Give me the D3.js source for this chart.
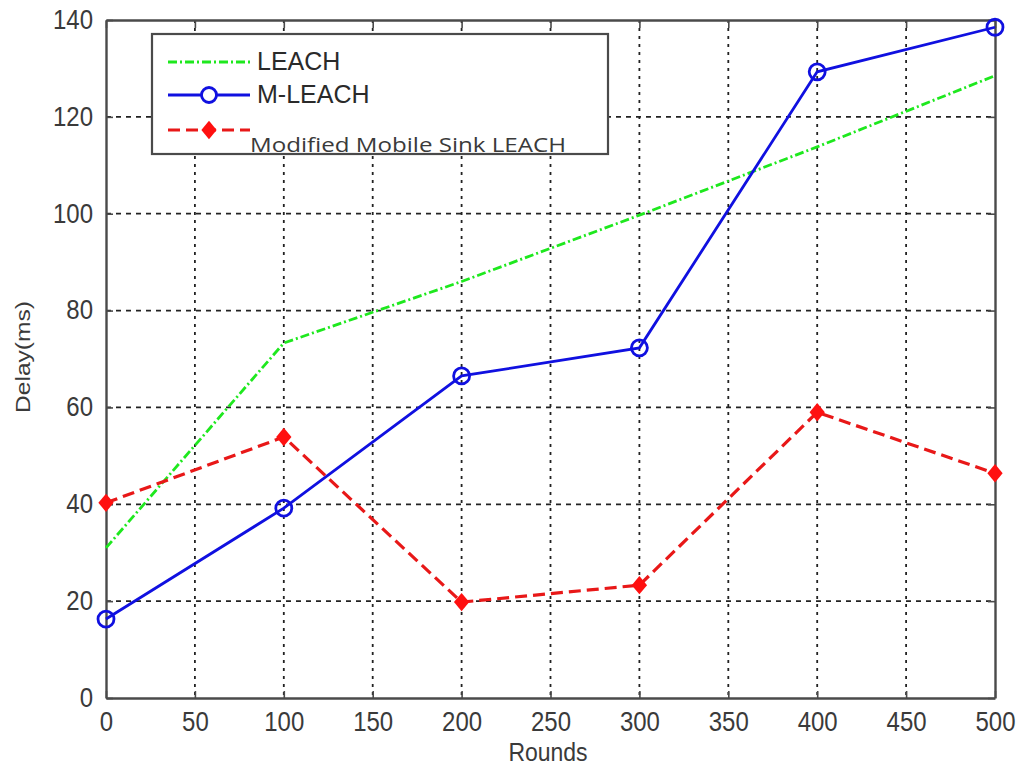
<!DOCTYPE html>
<html>
<head>
<meta charset="utf-8">
<script src="https://cdn.jsdelivr.net/npm/d3@7"></script>
<style>
  html, body { margin: 0; padding: 0; background: #fff; }
  svg { display: block; }
</style>
</head>
<body>
<svg id="chart" width="1020" height="769"></svg>
<script>
// Delay per round for the three clustering protocols
const rounds = [0, 100, 200, 300, 400, 500];
const leach = [31, 73.3, 86, 99.7, 113.8, 128.5];
const mLeach = [16.3, 39.2, 66.5, 72.3, 129.3, 138.5];
const modifiedSink = [40.3, 53.9, 19.8, 23.3, 59, 46.4];

const xTicks = [0, 50, 100, 150, 200, 250, 300, 350, 400, 450, 500];
const yTicks = [0, 20, 40, 60, 80, 100, 120, 140];
const seriesNames = ["LEACH", "M-LEACH", "Modified Mobile Sink LEACH"];

const svg = d3.select("#chart");
const plotLeft = 106, plotRight = 995, plotTop = 20, plotBottom = 698;

const x = d3.scaleLinear().domain([0, 500]).range([plotLeft, plotRight]);
const y = d3.scaleLinear().domain([0, 140]).range([plotBottom, plotTop]);

const axisColor = "#4a4a4a";
const labelColor = "#3a3a3a";
const stretch = 1.15;
const green = "#1ee81e", blue = "#1010e0", red = "#e81818";

// grid
const grid = svg.append("g");
grid.selectAll("line.gx").data(xTicks.slice(1, -1)).join("line")
  .attr("x1", d => x(d)).attr("x2", d => x(d))
  .attr("y1", plotTop).attr("y2", plotBottom)
  .attr("stroke", "#222").attr("stroke-width", 1.8)
  .attr("stroke-dasharray", "3,5");
grid.selectAll("line.gy").data(yTicks.slice(1, -1)).join("line")
  .attr("x1", plotLeft).attr("x2", plotRight)
  .attr("y1", d => y(d)).attr("y2", d => y(d))
  .attr("stroke", "#222").attr("stroke-width", 1.8)
  .attr("stroke-dasharray", "5,5");

// axes
const xAxis = svg.append("g")
  .attr("transform", `translate(0,${plotBottom})`)
  .call(d3.axisBottom(x).tickValues(xTicks).tickSizeInner(-7).tickSizeOuter(0).tickPadding(14));
const xAxisTop = svg.append("g")
  .attr("transform", `translate(0,${plotTop})`)
  .call(d3.axisTop(x).tickValues(xTicks).tickSizeInner(-8).tickSizeOuter(0).tickFormat(""));
const yAxis = svg.append("g")
  .attr("transform", `translate(${plotLeft},0)`)
  .call(d3.axisLeft(y).tickValues(yTicks).tickSizeInner(-7).tickSizeOuter(0).tickPadding(13));
const yAxisRight = svg.append("g")
  .attr("transform", `translate(${plotRight},0)`)
  .call(d3.axisRight(y).tickValues(yTicks).tickSizeInner(-7).tickSizeOuter(0).tickFormat(""));

[xAxis, xAxisTop, yAxis, yAxisRight].forEach(a => {
  a.select(".domain").attr("stroke", axisColor).attr("stroke-width", 2.4);
  a.selectAll(".tick line").attr("stroke", axisColor).attr("stroke-width", 1.6);
});
xAxis.selectAll(".tick text")
  .attr("font-family", "Liberation Sans, Arial, sans-serif")
  .attr("font-size", 24).attr("fill", labelColor)
  .attr("dy", "0.62em")
  .attr("transform", `scale(1,${stretch})`);
yAxis.selectAll(".tick text")
  .attr("font-family", "Liberation Sans, Arial, sans-serif")
  .attr("font-size", 24).attr("fill", labelColor)
  .attr("dy", "0.3em")
  .attr("transform", `scale(1,${stretch})`);

// axis titles
svg.append("text")
  .attr("transform", `translate(548,761) scale(1,${stretch})`)
  .attr("text-anchor", "middle")
  .attr("font-family", "Liberation Sans, Arial, sans-serif")
  .attr("font-size", 23).attr("fill", labelColor)
  .text("Rounds");
svg.append("text")
  .attr("transform", `translate(30,357) rotate(-90) scale(${stretch + 0.08},1)`)
  .attr("text-anchor", "middle")
  .attr("font-family", "Liberation Sans, Arial, sans-serif")
  .attr("font-size", 20).attr("fill", labelColor)
  .text("Delay(ms)");

// lines
const line = d3.line().x((d, i) => x(rounds[i])).y(d => y(d));
const plot = svg.append("g");
const marker = d3.symbol(d3.symbolDiamond, 120);

plot.append("path").datum(leach)
  .attr("d", line).attr("fill", "none")
  .attr("stroke", green).attr("stroke-width", 2.8)
  .attr("stroke-dasharray", "9,3,2,3");

plot.append("path").datum(mLeach)
  .attr("d", line).attr("fill", "none")
  .attr("stroke", blue).attr("stroke-width", 2.8);
plot.selectAll("circle.m").data(mLeach).join("circle")
  .attr("cx", (d, i) => x(rounds[i])).attr("cy", d => y(d))
  .attr("r", 8).attr("fill", "none")
  .attr("stroke", blue).attr("stroke-width", 2.8);

plot.append("path").datum(modifiedSink)
  .attr("d", line).attr("fill", "none")
  .attr("stroke", red).attr("stroke-width", 3.2)
  .attr("stroke-dasharray", "12,6");
plot.selectAll("path.d").data(modifiedSink).join("path")
  .attr("transform", (d, i) => `translate(${x(rounds[i])},${y(d)}) scale(1.3,0.9)`)
  .attr("d", marker)
  .attr("fill", "#ff1010");

// legend
const lg = svg.append("g");
lg.append("rect")
  .attr("x", 152).attr("y", 34).attr("width", 456).attr("height", 120)
  .attr("fill", "#fff").attr("stroke", axisColor).attr("stroke-width", 2.2);

lg.append("line").attr("x1", 168).attr("x2", 250).attr("y1", 62).attr("y2", 62)
  .attr("stroke", green).attr("stroke-width", 2.8).attr("stroke-dasharray", "9,3,2,3");
lg.append("line").attr("x1", 168).attr("x2", 250).attr("y1", 95).attr("y2", 95)
  .attr("stroke", blue).attr("stroke-width", 2.8);
lg.append("circle").attr("cx", 209).attr("cy", 95).attr("r", 7.5)
  .attr("fill", "#fff").attr("stroke", blue).attr("stroke-width", 2.8);
lg.append("line").attr("x1", 168).attr("x2", 250).attr("y1", 130).attr("y2", 130)
  .attr("stroke", red).attr("stroke-width", 3.2).attr("stroke-dasharray", "12,6");
lg.append("path").attr("transform", "translate(209,130) scale(1.3,0.9)")
  .attr("d", marker).attr("fill", "#ff1010");

lg.append("text").attr("x", 257).attr("y", 70)
  .attr("font-family", "Liberation Sans, Arial, sans-serif")
  .attr("font-size", 25).attr("fill", "#2a2a2a").text(seriesNames[0]);
lg.append("text").attr("x", 257).attr("y", 103)
  .attr("font-family", "Liberation Sans, Arial, sans-serif")
  .attr("font-size", 25).attr("fill", "#2a2a2a").text(seriesNames[1]);
lg.append("text").attr("x", 250).attr("y", 152)
  .attr("font-family", "Open Sans, sans-serif")
  .attr("font-size", 20).attr("fill", "#3a3a3a")
  .attr("textLength", 316).attr("lengthAdjust", "spacingAndGlyphs")
  .text(seriesNames[2]);
</script>
</body>
</html>
